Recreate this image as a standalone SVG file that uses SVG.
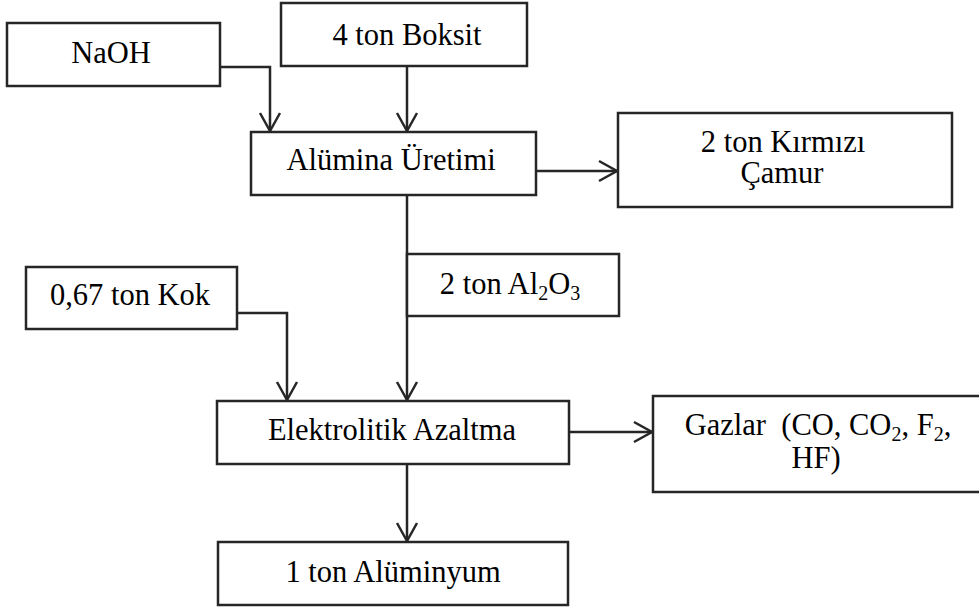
<svg xmlns="http://www.w3.org/2000/svg" width="979" height="610" viewBox="0 0 979 610">
<style>
.box{fill:#fff;stroke:#262626;stroke-width:2.5}
.lbl{font-family:"Liberation Serif","Times New Roman",serif;font-size:30.5px;fill:#000;text-anchor:middle}
.sub{font-size:20px}
.conn{fill:none;stroke:#262626;stroke-width:2.5}
</style>
<defs>
<marker id="arr" markerUnits="userSpaceOnUse" markerWidth="24" markerHeight="24" viewBox="-20 -12 22 24" refX="0" refY="0" orient="auto">
<path d="M-18,-10 L0,0 L-18,10" fill="none" stroke="#262626" stroke-width="2.5"/>
</marker>
</defs>
<rect width="979" height="610" fill="#fff"/>
<g id="connectors">
<path class="conn" d="M220,67 H270 V131" marker-end="url(#arr)"/>
<path class="conn" d="M407,66 V131" marker-end="url(#arr)"/>
<path class="conn" d="M536,171 H617" marker-end="url(#arr)"/>
<path class="conn" d="M407,195 V400" marker-end="url(#arr)"/>
<path class="conn" d="M237,313 H287 V400" marker-end="url(#arr)"/>
<path class="conn" d="M569,432 H652" marker-end="url(#arr)"/>
<path class="conn" d="M407,464 V541" marker-end="url(#arr)"/>
</g>
<g id="naoh">
<rect class="box" x="7" y="23" width="213" height="63"/>
<text class="lbl" x="111" y="63">NaOH</text>
</g>
<g id="boksit">
<rect class="box" x="281" y="3" width="246" height="63"/>
<text class="lbl" x="407" y="45">4 ton Boksit</text>
</g>
<g id="alumina">
<rect class="box" x="251" y="132" width="285" height="63"/>
<text class="lbl" x="391" y="170">Alümina Üretimi</text>
</g>
<g id="camur">
<rect class="box" x="618" y="113" width="334" height="94"/>
<text class="lbl" x="783" y="152">2 ton Kırmızı</text>
<text class="lbl" x="782" y="183">Çamur</text>
</g>
<g id="al2o3">
<rect class="box" x="407" y="254" width="212" height="62"/>
<text class="lbl" x="510" y="294">2 ton Al<tspan class="sub" dy="6">2</tspan><tspan dy="-6">O</tspan><tspan class="sub" dy="6">3</tspan></text>
</g>
<g id="kok">
<rect class="box" x="26" y="267" width="211" height="62"/>
<text class="lbl" x="130" y="305">0,67 ton Kok</text>
</g>
<g id="elektrolitik">
<rect class="box" x="217" y="401" width="352" height="63"/>
<text class="lbl" x="392" y="440">Elektrolitik Azaltma</text>
</g>
<g id="gazlar">
<rect class="box" x="653" y="396" width="340" height="96"/>
<text class="lbl" x="818" y="435" xml:space="preserve">Gazlar  (CO, CO<tspan class="sub" dy="6">2</tspan><tspan dy="-6">, F</tspan><tspan class="sub" dy="6">2</tspan><tspan dy="-6">,</tspan></text>
<text class="lbl" x="816" y="468">HF)</text>
</g>
<g id="aluminyum">
<rect class="box" x="218" y="542" width="350" height="63"/>
<text class="lbl" x="393" y="582">1 ton Alüminyum</text>
</g>
</svg>
